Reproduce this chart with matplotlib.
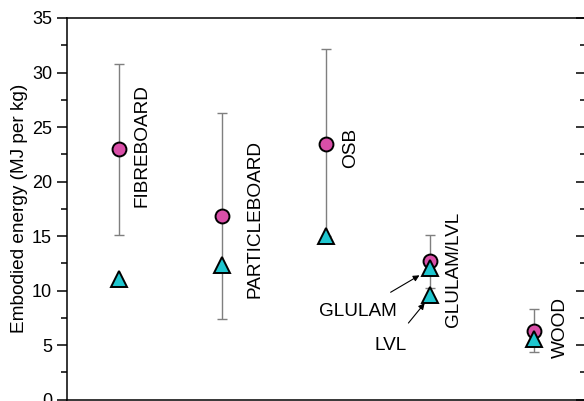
import matplotlib.pyplot as plt
import numpy as np
from matplotlib.ticker import MultipleLocator, NullLocator

plt.rcParams['font.family'] = ['Liberation Sans', 'DejaVu Sans']

products = ["FIBREBOARD", "PARTICLEBOARD", "OSB", "GLULAM/LVL", "WOOD"]
mean_energy = [22.95, 16.8, 23.4, 12.7, 6.3]
err_top = [30.75, 26.3, 32.2, 15.1, 8.3]
err_bottom = [15.1, 7.4, 15.0, 10.2, 4.4]
tri_x = [1, 2, 3, 4, 4, 5]
tri_energy = [11.05, 12.3, 15.0, 12.1, 9.6, 5.6]

label_x = [1.225, 2.31, 3.24, 4.23, 5.26]
label_y = [17.7, 9.3, 21.2, 6.65, 3.8]

x = np.arange(1, len(products) + 1)
mean_energy = np.array(mean_energy)
yerr = [mean_energy - np.array(err_bottom), np.array(err_top) - mean_energy]

fig = plt.figure(figsize=(5.84, 4.01), dpi=100)
ax = fig.add_axes([66.7 / 584, 1.4 / 401, (585.5 - 66.7) / 584, (399.6 - 18) / 401])

ax.errorbar(x, mean_energy, yerr=yerr, fmt='none', ecolor='#7f7f7f', elinewidth=1.0,
            capsize=3.5, capthick=1.0, zorder=1)
ax.plot(x, mean_energy, 'o', ms=10, mfc='#d94fa8', mec='black', mew=1.4, zorder=3)
ax.plot(tri_x, tri_energy, '^', ms=11.5, mfc='#1fc6cf', mec='black', mew=1.4, zorder=4)

for lx, ly, name in zip(label_x, label_y, products):
    ax.text(lx, ly, name, rotation=90, ha='center', va='bottom', fontsize=13.7)

ax.annotate("GLULAM", xy=(3.9, 11.4), xytext=(3.31, 8.1), ha='center', va='center',
            fontsize=13.7, arrowprops=dict(arrowstyle='-|>', color='black', lw=0.8,
                                           mutation_scale=9, shrinkA=11, shrinkB=0))
ax.annotate("LVL", xy=(3.95, 8.85), xytext=(3.62, 5.0), ha='center', va='center',
            fontsize=13.7, arrowprops=dict(arrowstyle='-|>', color='black', lw=0.8,
                                           mutation_scale=9, shrinkA=10, shrinkB=0))

ax.set_xlim(0.5, 5.5)
ax.set_ylim(0, 35)
ax.xaxis.set_major_locator(NullLocator())
ax.yaxis.set_major_locator(MultipleLocator(5))
ax.yaxis.set_minor_locator(MultipleLocator(2.5))
ax.tick_params(axis='y', which='both', left=True, right=True, labelsize=13, width=1.1)
ax.tick_params(axis='y', which='major', length=7)
ax.tick_params(axis='y', which='minor', length=4)
# left ticks point out, right ticks point in
for t in ax.yaxis.get_major_ticks() + ax.yaxis.get_minor_ticks():
    t.tick2line.set_marker(0)
for sp in ax.spines.values():
    sp.set_linewidth(1.1)
ax.set_ylabel("Embodied energy (MJ per kg)", fontsize=13.7, labelpad=3)

fig.savefig("out.png", dpi=100)
